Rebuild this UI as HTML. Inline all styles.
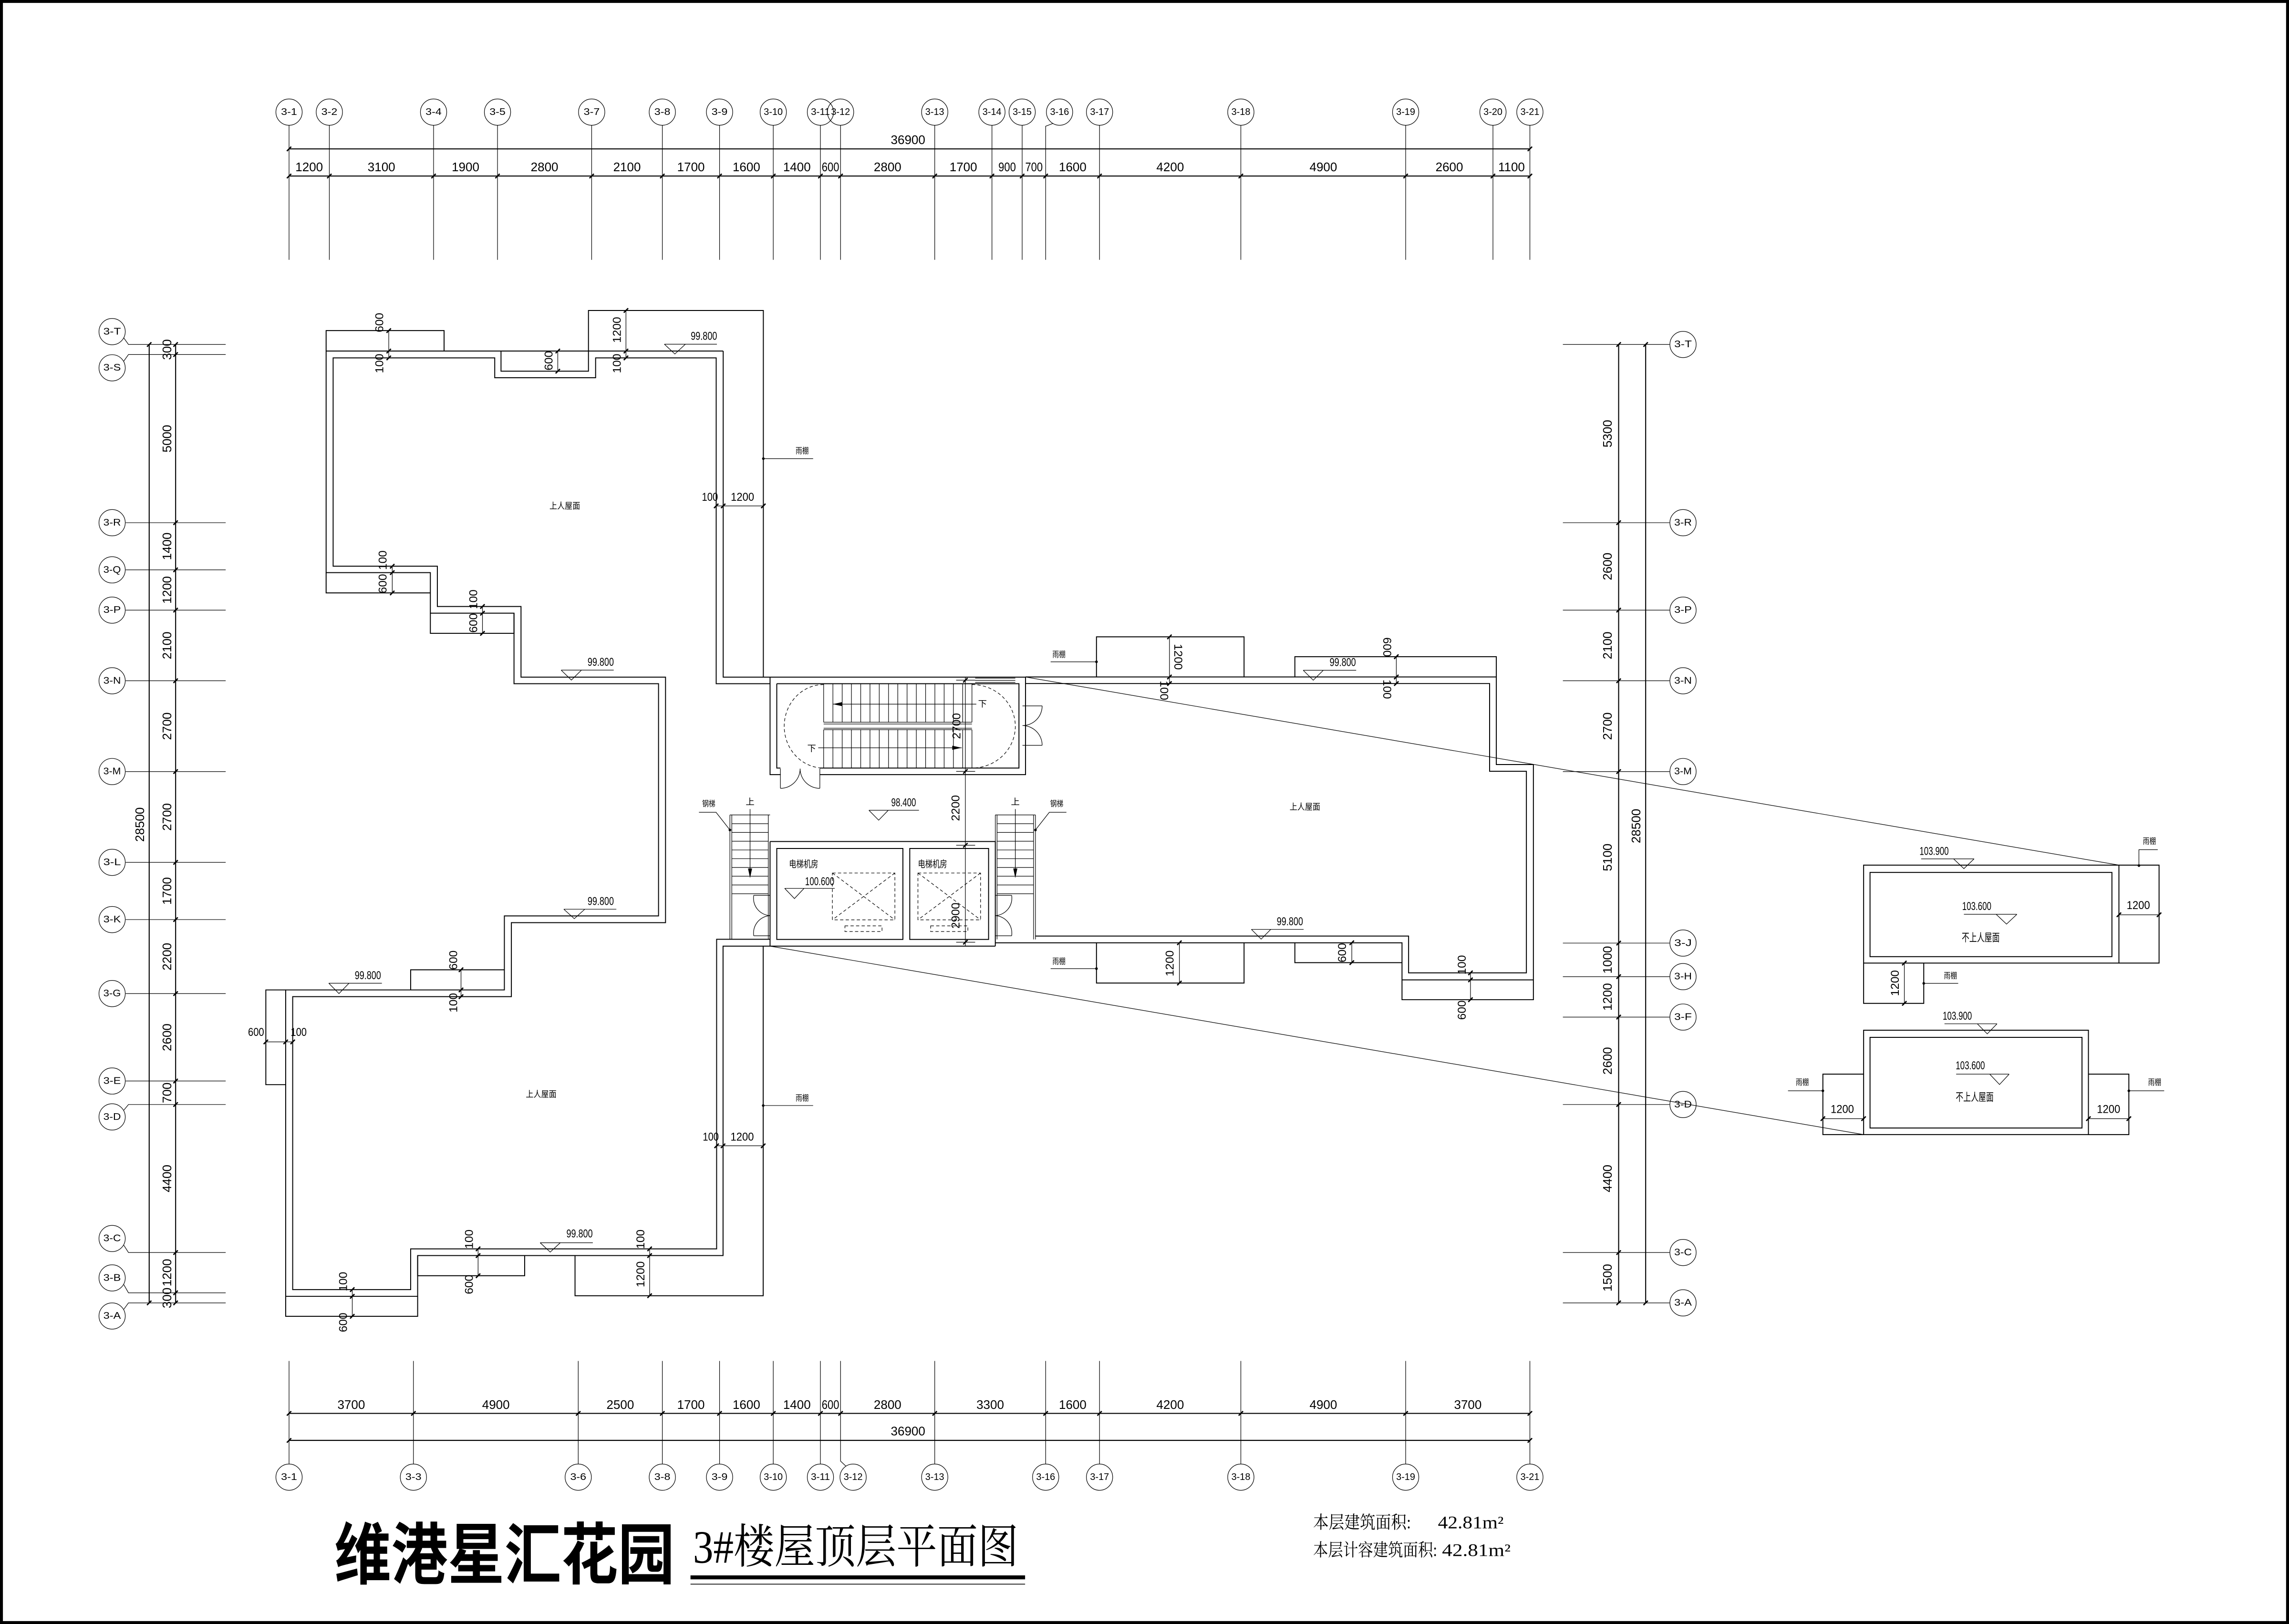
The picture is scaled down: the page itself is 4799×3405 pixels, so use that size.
<!DOCTYPE html>
<html><head><meta charset="utf-8">
<style>
html,body{margin:0;padding:0;background:#fff;}
svg{display:block}
.w{stroke:#000;stroke-width:.65;fill:none}
.a{stroke:#000;stroke-width:.4;fill:none}
.d{stroke:#000;stroke-width:.7;fill:none}
.k{stroke:#000;stroke-width:.9;fill:none}
.ds{stroke:#000;stroke-width:.4;fill:none;stroke-dasharray:2.2 1.6}
.f{fill:#000;stroke:none}
text{font-family:"Liberation Sans","Noto Sans CJK SC",sans-serif;fill:#000;text-anchor:middle;dominant-baseline:central}
.n{font-size:8.5px}
.p{font-size:8px}
.b{font-size:6.5px}
.c{font-size:6px}
.e{font-size:8px}
</style></head><body>
<svg width="4799" height="3405" viewBox="0 0 1568 1112.6" preserveAspectRatio="none">
<rect x="0" y="0" width="1568" height="1112.6" fill="#fff"/>
<rect x="1" y="1" width="1566" height="1110.6" fill="none" stroke="#000" stroke-width="2"/>

<!-- ===== TOP AXIS ===== -->
<path class="a" d="M198 85.8V178M225.6 85.8V178M297 85.8V178M340.8 85.8V178M405.3 85.8V178M453.7 85.8V178M492.9 85.8V178M529.7 85.8V178M562 85.8V178M575.8 85.8V178M640.3 85.8V178M679.5 85.8V178M700.2 85.8V178M716.3 178V86.5L721.5 84.5M753.2 85.8V178M850 85.8V178M962.9 85.8V178M1022.7 85.8V178M1048 85.8V178"/>
<path class="d" d="M198 102H1048M198 120.6H1048"/>
<path class="k" d="M196.5 122.1l3 -3M224.1 122.1l3 -3M295.5 122.1l3 -3M339.3 122.1l3 -3M403.8 122.1l3 -3M452.2 122.1l3 -3M491.4 122.1l3 -3M528.2 122.1l3 -3M560.5 122.1l3 -3M574.3 122.1l3 -3M638.8 122.1l3 -3M678 122.1l3 -3M698.7 122.1l3 -3M714.8 122.1l3 -3M751.7 122.1l3 -3M848.5 122.1l3 -3M961.4 122.1l3 -3M1021.2 122.1l3 -3M1046.5 122.1l3 -3M196.5 103.5l3 -3M1046.5 103.5l3 -3"/>
<g class="a">
<circle cx="198" cy="76.8" r="9"/><circle cx="225.6" cy="76.8" r="9"/><circle cx="297" cy="76.8" r="9"/><circle cx="340.8" cy="76.8" r="9"/><circle cx="405.3" cy="76.8" r="9"/><circle cx="453.7" cy="76.8" r="9"/><circle cx="492.9" cy="76.8" r="9"/><circle cx="529.7" cy="76.8" r="9"/><circle cx="562" cy="76.8" r="9"/><circle cx="575.8" cy="76.8" r="9"/><circle cx="640.3" cy="76.8" r="9"/><circle cx="679.5" cy="76.8" r="9"/><circle cx="700.2" cy="76.8" r="9"/><circle cx="725.8" cy="76.8" r="9"/><circle cx="753.2" cy="76.8" r="9"/><circle cx="850" cy="76.8" r="9"/><circle cx="962.9" cy="76.8" r="9"/><circle cx="1022.7" cy="76.8" r="9"/><circle cx="1048" cy="76.8" r="9"/>
</g>
<g class="b">
<text x="198" y="76.8" textLength="11" lengthAdjust="spacingAndGlyphs">3-1</text>
<text x="225.6" y="76.8" textLength="11" lengthAdjust="spacingAndGlyphs">3-2</text>
<text x="297" y="76.8" textLength="11" lengthAdjust="spacingAndGlyphs">3-4</text>
<text x="340.8" y="76.8" textLength="11" lengthAdjust="spacingAndGlyphs">3-5</text>
<text x="405.3" y="76.8" textLength="11" lengthAdjust="spacingAndGlyphs">3-7</text>
<text x="453.7" y="76.8" textLength="11" lengthAdjust="spacingAndGlyphs">3-8</text>
<text x="492.9" y="76.8" textLength="11" lengthAdjust="spacingAndGlyphs">3-9</text>
<text x="529.7" y="76.8" textLength="13" lengthAdjust="spacingAndGlyphs">3-10</text>
<text x="562" y="76.8" textLength="13" lengthAdjust="spacingAndGlyphs">3-11</text>
<text x="575.8" y="76.8" textLength="13" lengthAdjust="spacingAndGlyphs">3-12</text>
<text x="640.3" y="76.8" textLength="13" lengthAdjust="spacingAndGlyphs">3-13</text>
<text x="679.5" y="76.8" textLength="13" lengthAdjust="spacingAndGlyphs">3-14</text>
<text x="700.2" y="76.8" textLength="13" lengthAdjust="spacingAndGlyphs">3-15</text>
<text x="725.8" y="76.8" textLength="13" lengthAdjust="spacingAndGlyphs">3-16</text>
<text x="753.2" y="76.8" textLength="13" lengthAdjust="spacingAndGlyphs">3-17</text>
<text x="850" y="76.8" textLength="13" lengthAdjust="spacingAndGlyphs">3-18</text>
<text x="962.9" y="76.8" textLength="13" lengthAdjust="spacingAndGlyphs">3-19</text>
<text x="1022.7" y="76.8" textLength="13" lengthAdjust="spacingAndGlyphs">3-20</text>
<text x="1048" y="76.8" textLength="13" lengthAdjust="spacingAndGlyphs">3-21</text>
</g>
<g class="n">
<text x="622" y="95.8">36900</text>
<text x="211.8" y="114.4">1200</text>
<text x="261.3" y="114.4">3100</text>
<text x="318.9" y="114.4">1900</text>
<text x="373" y="114.4">2800</text>
<text x="429.5" y="114.4">2100</text>
<text x="473.3" y="114.4">1700</text>
<text x="511.3" y="114.4">1600</text>
<text x="545.9" y="114.4">1400</text>
<text x="568.9" y="114.4" textLength="12" lengthAdjust="spacingAndGlyphs">600</text>
<text x="608" y="114.4">2800</text>
<text x="659.9" y="114.4">1700</text>
<text x="689.9" y="114.4" textLength="12" lengthAdjust="spacingAndGlyphs">900</text>
<text x="708.3" y="114.4" textLength="12" lengthAdjust="spacingAndGlyphs">700</text>
<text x="734.8" y="114.4">1600</text>
<text x="801.6" y="114.4">4200</text>
<text x="906.5" y="114.4">4900</text>
<text x="992.8" y="114.4">2600</text>
<text x="1035.4" y="114.4">1100</text>
</g>

<!-- ===== BOTTOM AXIS ===== -->
<path class="a" d="M198 932.4V1002.8M283.2 932.4V1002.8M396.1 932.4V1002.8M453.7 932.4V1002.8M492.9 932.4V1002.8M529.7 932.4V1002.8M562 932.4V1002.8M575.8 932.4V1001L579.5 1004.5M640.3 932.4V1002.8M716.3 932.4V1002.8M753.2 932.4V1002.8M850 932.4V1002.8M962.9 932.4V1002.8M1048 932.4V1002.8"/>
<path class="d" d="M198 968.3H1048M198 986.8H1048"/>
<path class="k" d="M196.5 969.8l3 -3M281.7 969.8l3 -3M394.6 969.8l3 -3M452.2 969.8l3 -3M491.4 969.8l3 -3M528.2 969.8l3 -3M560.5 969.8l3 -3M574.3 969.8l3 -3M638.8 969.8l3 -3M714.8 969.8l3 -3M751.7 969.8l3 -3M848.5 969.8l3 -3M961.4 969.8l3 -3M1046.5 969.8l3 -3M196.5 988.3l3 -3M1046.5 988.3l3 -3"/>
<g class="a">
<circle cx="198" cy="1012" r="9"/><circle cx="283.2" cy="1012" r="9"/><circle cx="396.1" cy="1012" r="9"/><circle cx="453.7" cy="1012" r="9"/><circle cx="492.9" cy="1012" r="9"/><circle cx="529.7" cy="1012" r="9"/><circle cx="562" cy="1012" r="9"/><circle cx="584.4" cy="1012" r="9"/><circle cx="640.3" cy="1012" r="9"/><circle cx="716.3" cy="1012" r="9"/><circle cx="753.2" cy="1012" r="9"/><circle cx="850" cy="1012" r="9"/><circle cx="962.9" cy="1012" r="9"/><circle cx="1048" cy="1012" r="9"/>
</g>
<g class="b">
<text x="198" y="1012" textLength="11" lengthAdjust="spacingAndGlyphs">3-1</text>
<text x="283.2" y="1012" textLength="11" lengthAdjust="spacingAndGlyphs">3-3</text>
<text x="396.1" y="1012" textLength="11" lengthAdjust="spacingAndGlyphs">3-6</text>
<text x="453.7" y="1012" textLength="11" lengthAdjust="spacingAndGlyphs">3-8</text>
<text x="492.9" y="1012" textLength="11" lengthAdjust="spacingAndGlyphs">3-9</text>
<text x="529.7" y="1012" textLength="13" lengthAdjust="spacingAndGlyphs">3-10</text>
<text x="562" y="1012" textLength="13" lengthAdjust="spacingAndGlyphs">3-11</text>
<text x="584.4" y="1012" textLength="13" lengthAdjust="spacingAndGlyphs">3-12</text>
<text x="640.3" y="1012" textLength="13" lengthAdjust="spacingAndGlyphs">3-13</text>
<text x="716.3" y="1012" textLength="13" lengthAdjust="spacingAndGlyphs">3-16</text>
<text x="753.2" y="1012" textLength="13" lengthAdjust="spacingAndGlyphs">3-17</text>
<text x="850" y="1012" textLength="13" lengthAdjust="spacingAndGlyphs">3-18</text>
<text x="962.9" y="1012" textLength="13" lengthAdjust="spacingAndGlyphs">3-19</text>
<text x="1048" y="1012" textLength="13" lengthAdjust="spacingAndGlyphs">3-21</text>
</g>
<g class="n">
<text x="622" y="980.4">36900</text>
<text x="240.6" y="962.3">3700</text>
<text x="339.7" y="962.3">4900</text>
<text x="424.9" y="962.3">2500</text>
<text x="473.3" y="962.3">1700</text>
<text x="511.3" y="962.3">1600</text>
<text x="545.9" y="962.3">1400</text>
<text x="568.9" y="962.3" textLength="12" lengthAdjust="spacingAndGlyphs">600</text>
<text x="608" y="962.3">2800</text>
<text x="678.3" y="962.3">3300</text>
<text x="734.8" y="962.3">1600</text>
<text x="801.6" y="962.3">4200</text>
<text x="906.5" y="962.3">4900</text>
<text x="1005.5" y="962.3">3700</text>
</g>

<!-- ===== LEFT AXIS ===== -->
<path class="a" d="M84.8 231.5L88 236H154.6M84.8 247.4L88 242.9H154.6M86.1 358.1H154.6M86.1 390.4H154.6M86.1 418H154.6M86.1 466.4H154.6M86.1 528.6H154.6M86.1 590.8H154.6M86.1 630H154.6M86.1 680.7H154.6M86.1 740.6H154.6M84.8 760.6L88 756.7H154.6M84.8 853.1L88 858.1H154.6M84.8 880.1L88 885.7H154.6M84.8 897L88 892.6H154.6"/>
<path class="d" d="M102.2 236V892.6M120.3 236V892.6"/>
<path class="k" d="M118.8 237.5l3 -3M118.8 244.4l3 -3M118.8 359.6l3 -3M118.8 391.9l3 -3M118.8 419.5l3 -3M118.8 467.9l3 -3M118.8 530.1l3 -3M118.8 592.3l3 -3M118.8 631.5l3 -3M118.8 682.2l3 -3M118.8 742.1l3 -3M118.8 758.2l3 -3M118.8 859.6l3 -3M118.8 887.2l3 -3M118.8 894.1l3 -3M100.7 237.5l3 -3M100.7 894.1l3 -3"/>
<g class="a">
<circle cx="76.8" cy="227.2" r="9"/><circle cx="76.8" cy="252" r="9"/><circle cx="76.8" cy="358.1" r="9"/><circle cx="76.8" cy="390.4" r="9"/><circle cx="76.8" cy="418" r="9"/><circle cx="76.8" cy="466.4" r="9"/><circle cx="76.8" cy="528.6" r="9"/><circle cx="76.8" cy="590.8" r="9"/><circle cx="76.8" cy="630" r="9"/><circle cx="76.8" cy="680.7" r="9"/><circle cx="76.8" cy="740.6" r="9"/><circle cx="76.8" cy="765.2" r="9"/><circle cx="76.8" cy="848.5" r="9"/><circle cx="76.8" cy="875.5" r="9"/><circle cx="76.8" cy="901.6" r="9"/>
</g>
<g class="b">
<text x="76.8" y="227.2" textLength="12" lengthAdjust="spacingAndGlyphs">3-T</text>
<text x="76.8" y="252" textLength="12" lengthAdjust="spacingAndGlyphs">3-S</text>
<text x="76.8" y="358.1" textLength="12" lengthAdjust="spacingAndGlyphs">3-R</text>
<text x="76.8" y="390.4" textLength="12" lengthAdjust="spacingAndGlyphs">3-Q</text>
<text x="76.8" y="418" textLength="12" lengthAdjust="spacingAndGlyphs">3-P</text>
<text x="76.8" y="466.4" textLength="12" lengthAdjust="spacingAndGlyphs">3-N</text>
<text x="76.8" y="528.6" textLength="12" lengthAdjust="spacingAndGlyphs">3-M</text>
<text x="76.8" y="590.8" textLength="12" lengthAdjust="spacingAndGlyphs">3-L</text>
<text x="76.8" y="630" textLength="12" lengthAdjust="spacingAndGlyphs">3-K</text>
<text x="76.8" y="680.7" textLength="12" lengthAdjust="spacingAndGlyphs">3-G</text>
<text x="76.8" y="740.6" textLength="12" lengthAdjust="spacingAndGlyphs">3-E</text>
<text x="76.8" y="765.2" textLength="12" lengthAdjust="spacingAndGlyphs">3-D</text>
<text x="76.8" y="848.5" textLength="12" lengthAdjust="spacingAndGlyphs">3-C</text>
<text x="76.8" y="875.5" textLength="12" lengthAdjust="spacingAndGlyphs">3-B</text>
<text x="76.8" y="901.6" textLength="12" lengthAdjust="spacingAndGlyphs">3-A</text>
</g>
<g class="n">
<text transform="translate(95.8 564.9) rotate(-90)">28500</text>
<text transform="translate(114.3 239.5) rotate(-90)">300</text>
<text transform="translate(114.3 300.5) rotate(-90)">5000</text>
<text transform="translate(114.3 374.3) rotate(-90)">1400</text>
<text transform="translate(114.3 404.2) rotate(-90)">1200</text>
<text transform="translate(114.3 442.2) rotate(-90)">2100</text>
<text transform="translate(114.3 497.5) rotate(-90)">2700</text>
<text transform="translate(114.3 559.7) rotate(-90)">2700</text>
<text transform="translate(114.3 610.4) rotate(-90)">1700</text>
<text transform="translate(114.3 655.4) rotate(-90)">2200</text>
<text transform="translate(114.3 710.7) rotate(-90)">2600</text>
<text transform="translate(114.3 748.7) rotate(-90)">700</text>
<text transform="translate(114.3 807.4) rotate(-90)">4400</text>
<text transform="translate(114.3 871.9) rotate(-90)">1200</text>
<text transform="translate(114.3 889.2) rotate(-90)">300</text>
</g>

<!-- ===== RIGHT AXIS ===== -->
<path class="a" d="M1070.6 236H1143.7M1070.6 358.1H1143.7M1070.6 418H1143.7M1070.6 466.4H1143.7M1070.6 528.6H1143.7M1070.6 646.1H1143.7M1070.6 669.1H1143.7M1070.6 696.8H1143.7M1070.6 756.7H1143.7M1070.6 858.1H1143.7M1070.6 892.6H1143.7"/>
<path class="d" d="M1108.8 236V892.6M1127.3 236V892.6"/>
<path class="k" d="M1107.3 237.5l3 -3M1107.3 359.6l3 -3M1107.3 419.5l3 -3M1107.3 467.9l3 -3M1107.3 530.1l3 -3M1107.3 647.6l3 -3M1107.3 670.6l3 -3M1107.3 698.3l3 -3M1107.3 758.2l3 -3M1107.3 859.6l3 -3M1107.3 894.1l3 -3M1125.8 237.5l3 -3M1125.8 894.1l3 -3"/>
<g class="a">
<circle cx="1152.9" cy="236" r="9"/><circle cx="1152.9" cy="358.1" r="9"/><circle cx="1152.9" cy="418" r="9"/><circle cx="1152.9" cy="466.4" r="9"/><circle cx="1152.9" cy="528.6" r="9"/><circle cx="1152.9" cy="646.1" r="9"/><circle cx="1152.9" cy="669.1" r="9"/><circle cx="1152.9" cy="696.8" r="9"/><circle cx="1152.9" cy="756.7" r="9"/><circle cx="1152.9" cy="858.1" r="9"/><circle cx="1152.9" cy="892.6" r="9"/>
</g>
<g class="b">
<text x="1152.9" y="236" textLength="12" lengthAdjust="spacingAndGlyphs">3-T</text>
<text x="1152.9" y="358.1" textLength="12" lengthAdjust="spacingAndGlyphs">3-R</text>
<text x="1152.9" y="418" textLength="12" lengthAdjust="spacingAndGlyphs">3-P</text>
<text x="1152.9" y="466.4" textLength="12" lengthAdjust="spacingAndGlyphs">3-N</text>
<text x="1152.9" y="528.6" textLength="12" lengthAdjust="spacingAndGlyphs">3-M</text>
<text x="1152.9" y="646.1" textLength="12" lengthAdjust="spacingAndGlyphs">3-J</text>
<text x="1152.9" y="669.1" textLength="12" lengthAdjust="spacingAndGlyphs">3-H</text>
<text x="1152.9" y="696.8" textLength="12" lengthAdjust="spacingAndGlyphs">3-F</text>
<text x="1152.9" y="756.7" textLength="12" lengthAdjust="spacingAndGlyphs">3-D</text>
<text x="1152.9" y="858.1" textLength="12" lengthAdjust="spacingAndGlyphs">3-C</text>
<text x="1152.9" y="892.6" textLength="12" lengthAdjust="spacingAndGlyphs">3-A</text>
</g>
<g class="n">
<text transform="translate(1120.7 565.9) rotate(-90)">28500</text>
<text transform="translate(1101.1 297.1) rotate(-90)">5300</text>
<text transform="translate(1101.1 388.1) rotate(-90)">2600</text>
<text transform="translate(1101.1 442.2) rotate(-90)">2100</text>
<text transform="translate(1101.1 497.5) rotate(-90)">2700</text>
<text transform="translate(1101.1 587.4) rotate(-90)">5100</text>
<text transform="translate(1101.1 657.6) rotate(-90)">1000</text>
<text transform="translate(1101.1 683) rotate(-90)">1200</text>
<text transform="translate(1101.1 726.8) rotate(-90)">2600</text>
<text transform="translate(1101.1 807.4) rotate(-90)">4400</text>
<text transform="translate(1101.1 875.4) rotate(-90)">1500</text>
</g>

<!-- ===== LEFT BLOCK ===== -->
<g class="w">
<path d="M223.4 240.5V226.5H304.2V240.5"/>
<path d="M223.4 240.5H495.4"/>
<path d="M343.2 240.5V254.3H403.1V212.7H522.9V463.9"/>
<path d="M495.4 240.5V463.9H527.5"/>
<path d="M527.5 468.4H490.6V245.2H408V258.8H338.9V245.2H228.2V387.9H299.6V415.5H356.9V463.9H455.9V632.1H350.3V682.8H200.5V883.5H281.3V855.6H490.9V643.5H527.5"/>
<path d="M223.4 240.5V392.3H294.8V420.1H352.1V468.4H451.1V627.5H345.5V678.2H195.7V888.1H286.1V860.2H495.3V648.2H681.8"/>
<path d="M223.4 392.3V406.2H294.8M294.8 420.1V433.9H352.1V420.1"/>
<path d="M195.7 678.2H182.1V743.1H195.7"/>
<path d="M281.3 678.2V664.4H345.5"/>
<path d="M195.7 888.1V901.8H286.1V888.1"/>
<path d="M286.1 860.2V874H359.4V860.2"/>
<path d="M393.9 860.2V887.7H522.8V648.2"/>
</g>
<!-- left block dims -->
<path class="a" d="M266.3 226.5V245.2M382.1 240.5V254.3M428.8 212.7V245.2M490.6 346.6H522.9M268.7 387.9V406.2M330.5 415.5V433.9M315.8 664.4V682.8M182.1 713.8H200.5M241.3 883.5V901.8M327.5 855.6V874M445 855.6V887.7M490.9 785H522.8"/>
<path class="k" d="M264.8 228l3 -3M264.8 242l3 -3M264.8 246.7l3 -3M380.6 242l3 -3M380.6 255.8l3 -3M427.3 214.2l3 -3M427.3 242l3 -3M427.3 246.7l3 -3M489.1 348.1l3 -3M493.9 348.1l3 -3M521.4 348.1l3 -3M267.2 389.4l3 -3M267.2 393.8l3 -3M267.2 407.7l3 -3M329 417l3 -3M329 421.6l3 -3M329 435.4l3 -3M314.3 665.9l3 -3M314.3 679.7l3 -3M314.3 684.3l3 -3M180.6 715.3l3 -3M194.2 715.3l3 -3M199 715.3l3 -3M239.8 885l3 -3M239.8 889.6l3 -3M239.8 903.3l3 -3M326 857.1l3 -3M326 861.7l3 -3M326 875.5l3 -3M443.5 857.1l3 -3M443.5 861.7l3 -3M443.5 889.2l3 -3M489.4 786.5l3 -3M493.8 786.5l3 -3M521.3 786.5l3 -3"/>
<g class="p">
<text transform="translate(260 221) rotate(-90)">600</text>
<text transform="translate(260 249) rotate(-90)">100</text>
<text transform="translate(376.1 247.1) rotate(-90)">600</text>
<text transform="translate(422.8 226) rotate(-90)">1200</text>
<text transform="translate(422.8 249) rotate(-90)">100</text>
<text x="486.3" y="340.7" textLength="11" lengthAdjust="spacingAndGlyphs">100</text>
<text x="508.6" y="340.7" textLength="16" lengthAdjust="spacingAndGlyphs">1200</text>
<text transform="translate(262.3 383.8) rotate(-90)">100</text>
<text transform="translate(262.3 399.9) rotate(-90)">600</text>
<text transform="translate(324.5 410.6) rotate(-90)">100</text>
<text transform="translate(324.5 426.8) rotate(-90)">600</text>
<text transform="translate(310.8 657.8) rotate(-90)">600</text>
<text transform="translate(310.8 687) rotate(-90)">100</text>
<text x="175.4" y="707.3" textLength="11" lengthAdjust="spacingAndGlyphs">600</text>
<text x="204.6" y="707.3" textLength="11" lengthAdjust="spacingAndGlyphs">100</text>
<text transform="translate(235.3 878) rotate(-90)">100</text>
<text transform="translate(235.3 906) rotate(-90)">600</text>
<text transform="translate(321.5 849) rotate(-90)">100</text>
<text transform="translate(321.5 880) rotate(-90)">600</text>
<text transform="translate(438.9 849) rotate(-90)">100</text>
<text transform="translate(438.9 873) rotate(-90)">1200</text>
<text x="486.9" y="779" textLength="11" lengthAdjust="spacingAndGlyphs">100</text>
<text x="508.4" y="779" textLength="16" lengthAdjust="spacingAndGlyphs">1200</text>
</g>
<!-- elevations left -->
<path class="a" d="M455.1 235.8H491.1M455.1 235.8L462.3 242.5L469.5 235.8M384.4 459.1H420.4M384.4 459.1L391.4 465.9L398.3 459.1M386.2 622.9H422.2M386.2 622.9L393.4 629.4L400.6 622.9M225.2 673.6H261.6M225.2 673.6L232.2 680.7L239.1 673.6M370 851.4H406.1M370 851.4L376.9 857.8L383.8 851.4"/>
<g class="e">
<text x="482.2" y="230.4" textLength="18" lengthAdjust="spacingAndGlyphs">99.800</text>
<text x="411.5" y="453.7" textLength="18" lengthAdjust="spacingAndGlyphs">99.800</text>
<text x="411.5" y="617.5" textLength="18" lengthAdjust="spacingAndGlyphs">99.800</text>
<text x="252" y="668.4" textLength="18" lengthAdjust="spacingAndGlyphs">99.800</text>
<text x="397" y="845.3" textLength="18" lengthAdjust="spacingAndGlyphs">99.800</text>
</g>
<g class="c">
<text x="386.9" y="346.6" textLength="21" lengthAdjust="spacingAndGlyphs">上人屋面</text>
<text x="370.7" y="749.5" textLength="21" lengthAdjust="spacingAndGlyphs">上人屋面</text>
<text x="893.9" y="552.7" textLength="21" lengthAdjust="spacingAndGlyphs">上人屋面</text>
</g>
<!-- canopy labels left -->
<path class="a" d="M522.9 314.2H557M522.8 757.4H557"/>
<circle class="f" cx="522.9" cy="314.2" r="0.9"/><circle class="f" cx="522.8" cy="757.4" r="0.9"/>
<g class="c" style="font-size:5.5px">
<text x="549.5" y="309" textLength="9" lengthAdjust="spacingAndGlyphs">雨棚</text>
<text x="549.5" y="752.4" textLength="9" lengthAdjust="spacingAndGlyphs">雨棚</text>
</g>

<!-- ===== CORE ===== -->
<g class="w">
<path d="M527.5 463.9H702.5V530.7H561.6M534.6 530.7H527.5V463.9"/>
<path d="M532.1 468.4H698V526.2H561.6M534.6 526.2H532.1V468.4"/>
<path d="M527.5 576.5H681.8V648.2M527.5 576.5V648.2"/>
<rect x="532.1" y="581.3" width="86.4" height="62.3"/>
<rect x="623.2" y="581.3" width="54" height="62.3"/>
</g>
<!-- stair box content -->
<path class="a" d="M564.2 468.4V494.8M564.2 499.9V526.2M570.55 468.4V494.8M570.55 499.9V526.2M576.9 468.4V494.8M576.9 499.9V526.2M583.25 468.4V494.8M583.25 499.9V526.2M589.6 468.4V494.8M589.6 499.9V526.2M595.95 468.4V494.8M595.95 499.9V526.2M602.3 468.4V494.8M602.3 499.9V526.2M608.65 468.4V494.8M608.65 499.9V526.2M615 468.4V494.8M615 499.9V526.2M621.35 468.4V494.8M621.35 499.9V526.2M627.7 468.4V494.8M627.7 499.9V526.2M634.05 468.4V494.8M634.05 499.9V526.2M640.4 468.4V494.8M640.4 499.9V526.2M646.75 468.4V494.8M646.75 499.9V526.2M653.1 468.4V494.8M653.1 499.9V526.2M659.45 468.4V494.8M659.45 499.9V526.2M665.8 468.4V494.8M665.8 499.9V526.2M564.2 494.8H665.8M564.2 496H665.8M564.2 498.9H665.8M564.2 499.9H665.8"/>
<path class="ds" d="M564.2 469A27 28.6 0 0 0 564.2 526.2M665.8 469A29.7 28.6 0 0 1 665.8 526.2"/>
<path class="a" d="M668.8 482.4H570.5M560.5 512.3H658.8"/>
<path class="f" d="M570.5 482.4L577 481V483.8ZM658.8 512.3L652.3 510.9V513.7Z"/>
<g class="c">
<text x="673" y="482.1">下</text>
<text x="556" y="512.7">下</text>
</g>
<path class="a" d="M668 464.6H695.5M668 466.1H695.5M668 467.5H695.5"/>
<!-- doors stair box -->
<path class="a" d="M534.6 526.6V540.1M561.6 526.6V540.1M534.6 540.1A13.5 13.5 0 0 0 548.1 526.6M561.6 540.1A13.5 13.5 0 0 1 548.1 526.6"/>
<path class="a" d="M700.4 483.6H713.9M700.4 510.6H713.9M713.9 483.6A13.5 13.5 0 0 1 700.4 497.1M713.9 510.6A13.5 13.5 0 0 0 700.4 497.1"/>
<!-- vertical dim core -->
<path class="a" d="M661.3 463.9V648M655 466H668M655 528.5H668M655 579.1H668M655 645.5H668"/>
<path class="k" d="M659.8 467.5l3 -3M659.8 530l3 -3M659.8 580.6l3 -3M659.8 647l3 -3"/>
<g class="p">
<text transform="translate(655.5 497.4) rotate(-90)">2700</text>
<text transform="translate(654.7 553.6) rotate(-90)">2200</text>
<text transform="translate(654.7 627.3) rotate(-90)">2900</text>
</g>
<!-- 98.400 -->
<path class="a" d="M595.2 555.1H629.5M595.2 555.1L601.9 561.9L608.5 555.1"/>
<text class="e" x="619" y="550" textLength="17" lengthAdjust="spacingAndGlyphs">98.400</text>
<!-- steel stairs -->
<path class="a" d="M500 558.3V643.6M501.3 558.3V643.6M526.3 558.3V643.6M500 558.3H527.5M501.3 564.3H526.3M501.3 570.3H526.3M501.3 576.3H526.3M501.3 582.3H526.3M501.3 588.3H526.3M501.3 594.3H526.3M501.3 600.3H526.3M501.3 606.3H526.3M501.3 612.3H526.3M513.8 554.3V596"/>
<path class="f" d="M513.8 601.5L512.4 595H515.2Z"/>
<path class="a" d="M681.8 558.3V643.6M683 558.3V643.6M708 558.3V643.6M709.3 558.3V643.6M681.8 558.3H709.3M683 564.3H708M683 570.3H708M683 576.3H708M683 582.3H708M683 588.3H708M683 594.3H708M683 600.3H708M683 606.3H708M683 612.3H708M695.5 554.3V596"/>
<path class="f" d="M695.5 601.5L694.1 595H696.9Z"/>
<path class="a" d="M516.3 613.4H527.5M516.3 641.1H527.5M516.3 613.4A12 12 0 0 0 527.5 627.3M516.3 641.1A12 12 0 0 1 527.5 627.3"/>
<path class="a" d="M681.8 613.4H693M681.8 641.1H693M693 613.4A12 12 0 0 1 681.8 627.3M693 641.1A12 12 0 0 0 681.8 627.3"/>
<g class="c">
<text x="513.8" y="549.2">上</text>
<text x="695.5" y="549.2">上</text>
</g>
<path class="a" d="M478.8 556.5H490.5L500 568.6M730.5 556.5H718.8L709.3 568.6"/>
<circle class="f" cx="500" cy="568.6" r="0.9"/><circle class="f" cx="709.3" cy="568.6" r="0.9"/>
<g class="c" style="font-size:5.5px">
<text x="485.5" y="550.7" textLength="9" lengthAdjust="spacingAndGlyphs">钢梯</text>
<text x="723.9" y="550.7" textLength="9" lengthAdjust="spacingAndGlyphs">钢梯</text>
</g>
<!-- elevator machine rooms -->
<rect class="ds" x="570.2" y="598.1" width="42.8" height="32.1"/>
<path class="ds" d="M570.2 598.1L613 630.2M613 598.1L570.2 630.2"/>
<rect class="ds" x="578.8" y="634.3" width="25.4" height="3.9"/>
<rect class="ds" x="628.8" y="598.1" width="42.9" height="32.1"/>
<path class="ds" d="M628.8 598.1L671.7 630.2M671.7 598.1L628.8 630.2"/>
<rect class="ds" x="637.5" y="634.3" width="25.5" height="3.9"/>
<g class="c" style="font-size:6.5px">
<text x="550.5" y="592.3" textLength="20" lengthAdjust="spacingAndGlyphs">电梯机房</text>
<text x="638.8" y="592.3" textLength="20" lengthAdjust="spacingAndGlyphs">电梯机房</text>
</g>
<path class="a" d="M537.5 608.6H571.8M537.5 608.6L544.2 615.6L550.8 608.6"/>
<text class="e" x="561.5" y="604" textLength="20" lengthAdjust="spacingAndGlyphs">100.600</text>

<!-- ===== RIGHT BLOCK ===== -->
<g class="w">
<path d="M702.5 463.8H1025V523.8H1050.4V684.9H960.4V645.9H681.8"/>
<path d="M960.4 671.3H1050.4"/>
<path d="M702.5 468.3H1020.4V528.4H1045.6V666.5H964.9V641.3H709.3"/>
<path d="M751.1 463.8V436.3H852.2V463.8"/>
<path d="M887 463.8V449.9H1025V463.8"/>
<path d="M887 645.9V659.5H960.4"/>
<path d="M751.1 645.9V673.5H852.2V645.9"/>
</g>
<path class="a" d="M801.1 436.3V468.3M956.5 449.9V468.3M807.9 645.9V673.5M926 645.9V659.5M1007.3 666.5V684.9"/>
<path class="k" d="M799.6 437.8l3 -3M799.6 465.3l3 -3M799.6 469.8l3 -3M955 451.4l3 -3M955 465.3l3 -3M955 469.8l3 -3M806.4 647.4l3 -3M806.4 675l3 -3M924.5 647.4l3 -3M924.5 661l3 -3M1005.8 668l3 -3M1005.8 672.8l3 -3M1005.8 686.4l3 -3"/>
<g class="p">
<text transform="translate(806.8 450) rotate(90)">1200</text>
<text transform="translate(797.2 473) rotate(90)">100</text>
<text transform="translate(950 443.3) rotate(90)">600</text>
<text transform="translate(950 472.2) rotate(90)">100</text>
<text transform="translate(801.4 660) rotate(-90)">1200</text>
<text transform="translate(919.6 652.7) rotate(-90)">600</text>
<text transform="translate(1001.6 661) rotate(-90)">100</text>
<text transform="translate(1001.6 692) rotate(-90)">600</text>
</g>
<path class="a" d="M892.7 459.2H929M892.7 459.2L899.6 466L906.5 459.2M857.2 636.7H893M857.2 636.7L863.9 643.4L870.5 636.7"/>
<g class="e">
<text x="919.8" y="453.8" textLength="18" lengthAdjust="spacingAndGlyphs">99.800</text>
<text x="883.6" y="631.5" textLength="18" lengthAdjust="spacingAndGlyphs">99.800</text>
</g>
<path class="a" d="M719.7 453.4H751.1M719.7 663.6H751.1"/>
<circle class="f" cx="751.1" cy="453.4" r="0.9"/><circle class="f" cx="751.1" cy="663.6" r="0.9"/>
<g class="c" style="font-size:5.5px">
<text x="725.4" y="448.5" textLength="9" lengthAdjust="spacingAndGlyphs">雨棚</text>
<text x="725.4" y="658.7" textLength="9" lengthAdjust="spacingAndGlyphs">雨棚</text>
</g>

<!-- slanted projection lines -->
<path class="a" d="M702.5 463.8L1451.5 592.7M527.5 648.2L1276.6 777.3"/>

<!-- ===== RIGHT BOXES ===== -->
<g class="w">
<rect x="1276.6" y="592.7" width="174.9" height="67.1"/>
<rect x="1281" y="597.7" width="165.7" height="57.7"/>
<path d="M1451.5 592.7H1479V659.8H1451.5"/>
<path d="M1276.6 659.8V687.4H1317.8V659.8"/>
<rect x="1276.6" y="705.8" width="154" height="71.5"/>
<rect x="1281" y="710.7" width="145.2" height="62.1"/>
<path d="M1276.6 735.9H1248.7V777.3H1276.6"/>
<path d="M1430.6 735.9H1458.3V777.3H1430.6"/>
</g>
<path class="a" d="M1451.5 626.7H1479M1304.5 659.8V687.4M1248.7 766.4H1276.6M1430.6 766.4H1458.3"/>
<path class="k" d="M1450 628.2l3 -3M1477.5 628.2l3 -3M1303 661.3l3 -3M1303 688.9l3 -3M1247.2 767.9l3 -3M1275.1 767.9l3 -3M1429.1 767.9l3 -3M1456.8 767.9l3 -3"/>
<g class="p">
<text x="1464.8" y="620.3" textLength="16" lengthAdjust="spacingAndGlyphs">1200</text>
<text transform="translate(1298.3 673.5) rotate(-90)">1200</text>
<text x="1262" y="760" textLength="16" lengthAdjust="spacingAndGlyphs">1200</text>
<text x="1444.4" y="760" textLength="16" lengthAdjust="spacingAndGlyphs">1200</text>
</g>
<path class="a" d="M1316 588.4H1352.3M1338.2 588.4L1345.3 595.1L1352.3 588.4M1345.3 626.4H1381.6M1367.4 626.4L1374.5 633.1L1381.6 626.4M1332 701.4H1368M1354.5 701.4L1361.3 708.3L1368 701.4M1340 735.9H1376.3M1363 735.9L1369.7 743L1376.3 735.9"/>
<g class="e">
<text x="1324.9" y="583.2" textLength="20" lengthAdjust="spacingAndGlyphs">103.900</text>
<text x="1354.1" y="621" textLength="20" lengthAdjust="spacingAndGlyphs">103.600</text>
<text x="1340.8" y="696.2" textLength="20" lengthAdjust="spacingAndGlyphs">103.900</text>
<text x="1349.7" y="730.2" textLength="20" lengthAdjust="spacingAndGlyphs">103.600</text>
</g>
<g class="c" style="font-size:7.5px">
<text x="1356.8" y="642.3" textLength="26" lengthAdjust="spacingAndGlyphs">不上人屋面</text>
<text x="1352.7" y="751.5" textLength="26" lengthAdjust="spacingAndGlyphs">不上人屋面</text>
</g>
<path class="a" d="M1465.2 593V582.1H1478.1M1317.8 673.7H1341.4M1224.8 747.3H1248.7M1458.3 747.3H1482.5"/>
<circle class="f" cx="1465.2" cy="593" r="0.9"/><circle class="f" cx="1317.8" cy="673.7" r="0.9"/><circle class="f" cx="1248.7" cy="747.3" r="0.9"/><circle class="f" cx="1458.3" cy="747.3" r="0.9"/>
<g class="c" style="font-size:5.5px">
<text x="1472.4" y="576.4" textLength="9" lengthAdjust="spacingAndGlyphs">雨棚</text>
<text x="1336.1" y="668.6" textLength="9" lengthAdjust="spacingAndGlyphs">雨棚</text>
<text x="1234.6" y="741.6" textLength="9" lengthAdjust="spacingAndGlyphs">雨棚</text>
<text x="1476" y="741.6" textLength="9" lengthAdjust="spacingAndGlyphs">雨棚</text>
</g>

<!-- ===== TITLE ===== -->
<text x="345.6" y="1065.6" style="font-size:46px;font-weight:bold;font-family:'Liberation Sans','Noto Sans CJK SC',sans-serif" textLength="233" lengthAdjust="spacingAndGlyphs">维港星汇花园</text>
<text x="586.2" y="1060.2" style="font-size:32px;font-family:'Liberation Serif','Noto Serif CJK SC',serif" textLength="223" lengthAdjust="spacingAndGlyphs">3#楼屋顶层平面图</text>
<rect class="f" x="473" y="1079.3" width="229.2" height="2.7"/>
<path class="a" d="M473 1085.3H702.2" style="stroke-width:.5"/>
<g style="font-size:12px;font-family:'Liberation Serif','Noto Serif CJK SC',serif">
<text x="899.5" y="1043" style="text-anchor:start;font-family:'Liberation Serif','Noto Serif CJK SC',serif" textLength="67" lengthAdjust="spacingAndGlyphs">本层建筑面积:</text>
<text x="985" y="1043" style="text-anchor:start;font-family:'Liberation Serif','Noto Serif CJK SC',serif" textLength="45" lengthAdjust="spacingAndGlyphs">42.81m²</text>
<text x="899.5" y="1062" style="text-anchor:start;font-family:'Liberation Serif','Noto Serif CJK SC',serif" textLength="85" lengthAdjust="spacingAndGlyphs">本层计容建筑面积:</text>
<text x="987.8" y="1062" style="text-anchor:start;font-family:'Liberation Serif','Noto Serif CJK SC',serif" textLength="47" lengthAdjust="spacingAndGlyphs">42.81m²</text>
</g>
</svg>
</body></html>
